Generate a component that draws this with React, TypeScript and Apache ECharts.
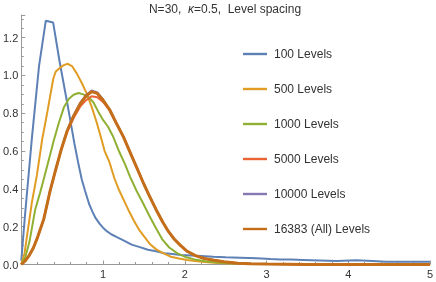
import React, { useEffect, useRef } from "react";
import * as echarts from "echarts";

const titleParts = ["N=30,  ", "κ", "=0.5,  Level spacing"];
const seriesNames = ["100 Levels", "500 Levels", "1000 Levels", "5000 Levels", "10000 Levels", "16383 (All) Levels"];
const colors = ["#5E81B5", "#E19C24", "#8FB032", "#EB6235", "#8778B3", "#C56E1A"];
const widths = [2, 2, 2, 2, 2, 3];

const xBlue = [0, 0.043, 0.13, 0.217, 0.3, 0.39, 0.47, 0.56, 0.65, 0.7, 0.74, 0.78, 0.83, 0.87, 0.91, 0.96, 1.0, 1.05, 1.1, 1.17, 1.25, 1.35, 1.45, 1.55, 1.65, 1.75, 1.85, 1.95, 2.08, 2.2, 2.35, 2.5, 2.68, 2.88, 3.05, 3.17, 3.3, 3.45, 3.65, 3.86, 4.1, 4.3, 4.46, 4.7, 5.0];
const yBlue = [0.02, 0.25, 0.67, 1.05, 1.29, 1.28, 1.07, 0.86, 0.64, 0.53, 0.45, 0.39, 0.32, 0.28, 0.245, 0.215, 0.195, 0.175, 0.16, 0.145, 0.128, 0.105, 0.092, 0.078, 0.07, 0.06, 0.055, 0.05, 0.047, 0.045, 0.041, 0.038, 0.036, 0.033, 0.029, 0.027, 0.026, 0.024, 0.021, 0.018, 0.022, 0.018, 0.015, 0.015, 0.015];

const xOrange = [0, 0.04, 0.08, 0.13, 0.19, 0.255, 0.32, 0.39, 0.42, 0.47, 0.52, 0.57, 0.62, 0.68, 0.74, 0.8, 0.86, 0.92, 0.97, 1.02, 1.08, 1.14, 1.2, 1.26, 1.32, 1.38, 1.44, 1.5, 1.57, 1.65, 1.73, 1.83, 1.93, 2.03, 2.15, 2.28, 2.4, 2.6, 2.8, 3.0, 3.5, 4.0, 5.0];
const yOrange = [0, 0.06, 0.18, 0.33, 0.47, 0.66, 0.81, 0.98, 1.02, 1.04, 1.055, 1.062, 1.05, 1.01, 0.96, 0.905, 0.835, 0.755, 0.68, 0.6, 0.54, 0.455, 0.39, 0.335, 0.28, 0.23, 0.185, 0.15, 0.11, 0.08, 0.062, 0.041, 0.032, 0.024, 0.017, 0.012, 0.008, 0.005, 0.003, 0.002, 0.001, 0, 0];

const xGreen = [0, 0.05, 0.1, 0.17, 0.23, 0.28, 0.34, 0.4, 0.46, 0.52, 0.58, 0.64, 0.7, 0.76, 0.82, 0.88, 0.94, 1.0, 1.06, 1.12, 1.2, 1.27, 1.33, 1.41, 1.49, 1.57, 1.65, 1.73, 1.81, 1.91, 2.02, 2.12, 2.25, 2.4, 2.6, 2.8, 3.0, 3.5, 4.0, 5.0];
const yGreen = [0, 0.04, 0.12, 0.29, 0.38, 0.46, 0.56, 0.66, 0.75, 0.83, 0.875, 0.898, 0.907, 0.9, 0.886, 0.86, 0.81, 0.765, 0.73, 0.68, 0.595, 0.53, 0.465, 0.39, 0.324, 0.255, 0.19, 0.13, 0.09, 0.059, 0.038, 0.027, 0.017, 0.01, 0.005, 0.003, 0.002, 0.001, 0, 0];

const xAll = [0, 0.05, 0.1, 0.15, 0.2, 0.275, 0.35, 0.42, 0.49, 0.56, 0.64, 0.72, 0.79, 0.86, 0.93, 1.0, 1.08, 1.16, 1.25, 1.33, 1.41, 1.49, 1.57, 1.65, 1.73, 1.8, 1.87, 1.95, 2.03, 2.13, 2.24, 2.36, 2.48, 2.65, 2.8, 3.0, 3.5, 4.0, 4.5, 5.0];
const yRed = [0, 0.02, 0.05, 0.09, 0.145, 0.24, 0.385, 0.5, 0.61, 0.7, 0.775, 0.835, 0.868, 0.89, 0.885, 0.86, 0.815, 0.75, 0.675, 0.595, 0.515, 0.435, 0.36, 0.29, 0.225, 0.175, 0.135, 0.1, 0.07, 0.047, 0.032, 0.022, 0.014, 0.007, 0.004, 0.002, 0.0005, 0, 0, 0];
const yPurple = [0, 0.02, 0.05, 0.09, 0.145, 0.24, 0.385, 0.5, 0.61, 0.708, 0.79, 0.855, 0.895, 0.921, 0.91, 0.873, 0.82, 0.75, 0.675, 0.595, 0.515, 0.435, 0.36, 0.29, 0.225, 0.175, 0.135, 0.1, 0.07, 0.047, 0.032, 0.022, 0.014, 0.007, 0.004, 0.002, 0.0005, 0, 0, 0];
const yAll = [0, 0.02, 0.05, 0.09, 0.145, 0.24, 0.385, 0.5, 0.61, 0.705, 0.785, 0.85, 0.89, 0.915, 0.905, 0.87, 0.82, 0.75, 0.675, 0.595, 0.515, 0.435, 0.36, 0.29, 0.225, 0.175, 0.135, 0.1, 0.07, 0.047, 0.032, 0.022, 0.014, 0.007, 0.004, 0.002, 0.0005, 0, 0, 0];

const xTicks = [1, 2, 3, 4, 5];
const yTicks = [0, 0.2, 0.4, 0.6, 0.8, 1.0, 1.2];

const zip = (xs: number[], ys: number[]) => xs.map((x, i) => [x, ys[i]]);

export default function App() {
  const ref = useRef<HTMLDivElement>(null);
  useEffect(() => {
    const chart = echarts.init(ref.current!, null, { renderer: "svg" });
    const dataSets = [
      zip(xBlue, yBlue),
      zip(xOrange, yOrange),
      zip(xGreen, yGreen),
      zip(xAll, yRed),
      zip(xAll, yPurple),
      zip(xAll, yAll),
    ];
    const font = "'Liberation Sans', Arial, sans-serif";
    chart.setOption({
      animation: false,
      textStyle: { fontFamily: font },
      title: {
        text: `{n|${titleParts[0]}}{k|${titleParts[1]}}{n|${titleParts[2]}}`,
        left: 225,
        textAlign: "center",
        top: 3,
        padding: 0,
        textStyle: {
          fontWeight: "normal",
          rich: {
            n: { fontSize: 12, color: "#333", fontFamily: font, fontWeight: "normal" },
            k: { fontSize: 12, color: "#333", fontFamily: font, fontStyle: "italic", fontWeight: "normal" },
          },
        },
      },
      legend: {
        orient: "vertical",
        left: 243,
        top: 48,
        padding: 0,
        itemWidth: 24,
        itemHeight: 14,
        itemGap: 23,
        data: seriesNames.map((n) => ({ name: n, icon: "path://M0,0 L24,0 L24,2.4 L0,2.4 Z" })),
        textStyle: { fontSize: 12, color: "#333", fontFamily: font, padding: [0, 0, 0, 2] },
        selectedMode: false,
      },
      grid: { left: 19, right: 5, top: 15, bottom: 17.5, containLabel: false },
      xAxis: {
        type: "value",
        min: 0,
        max: 5,
        interval: 1,
        axisLine: { lineStyle: { color: "#999", width: 1 } },
        axisTick: { inside: true, length: 4, lineStyle: { color: "#999" } },
        minorTick: { show: true, splitNumber: 5, length: 2.5, lineStyle: { color: "#999" } },
        splitLine: { show: false },
        axisLabel: {
          color: "#333",
          fontSize: 11,
          margin: 4,
          fontFamily: font,
          formatter: (v: number) => (xTicks.includes(Math.round(v)) && Math.abs(v - Math.round(v)) < 1e-6 ? String(v) : ""),
        },
      },
      yAxis: {
        type: "value",
        min: 0,
        max: 1.32,
        interval: 0.2,
        axisLine: { show: true, lineStyle: { color: "#999", width: 1 } },
        axisTick: { show: true, inside: true, length: 4, lineStyle: { color: "#999" } },
        minorTick: { show: true, splitNumber: 4, length: 2.5, lineStyle: { color: "#999" } },
        splitLine: { show: false },
        axisLabel: {
          color: "#333",
          fontSize: 11,
          margin: 3,
          fontFamily: font,
          showMaxLabel: false,
          formatter: (v: number) => {
            const t = yTicks.find((y) => Math.abs(y - v) < 1e-6);
            return t === undefined ? "" : t.toFixed(1);
          },
        },
      },
      series: seriesNames.map((name, i) => ({
        name,
        type: "line",
        data: dataSets[i],
        showSymbol: false,
        symbol: "none",
        smooth: false,
        color: colors[i],
        lineStyle: { color: colors[i], width: widths[i] },
        z: 2 + i,
      })),
    });
    return () => chart.dispose();
  }, []);
  return <div ref={ref} style={{ position: "fixed", left: 0, top: 0, width: 436, height: 282 }} />;
}
